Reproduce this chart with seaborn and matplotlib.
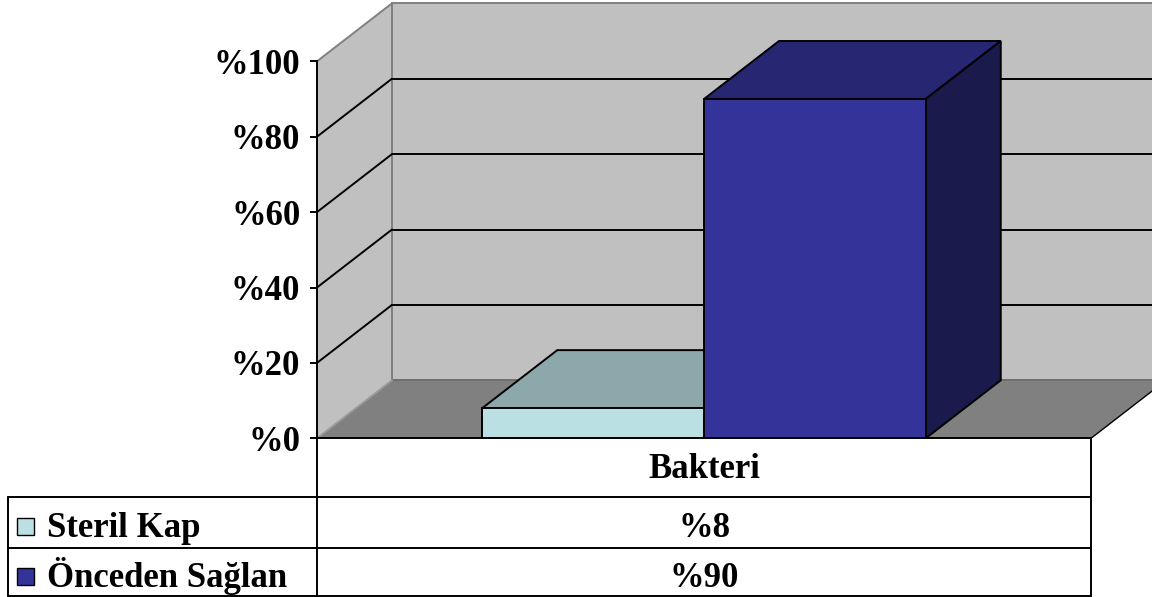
import pandas as pd
import matplotlib
matplotlib.use("Agg")
import matplotlib.pyplot as plt
from matplotlib.patches import Polygon, Rectangle
from matplotlib.lines import Line2D
from matplotlib.colors import to_rgb
from matplotlib import transforms
import seaborn as sns

# ---- data ----
category = "Bakteri"
series = ["Steril Kap", "Önceden Sağlan"]
values = [8, 90]
y_ticks = [0, 20, 40, 60, 80, 100]
tick_labels = [f"%{t}" for t in y_ticks]
front_colors = ["#BBE0E3", "#333399"]

df = pd.DataFrame({
    "kategori": [category] * len(series),
    "grup": series,
    "oran": values,
})

sns.set_style("white")
plt.rcParams["font.family"] = ["Liberation Serif", "DejaVu Serif"]
plt.rcParams["font.weight"] = "bold"
plt.rcParams["text.color"] = "black"
plt.rcParams["ytick.color"] = "black"
plt.rcParams["ytick.labelcolor"] = "black"

W, H, DPI = 1152, 597, 100
fig = plt.figure(figsize=(W / DPI, H / DPI), dpi=DPI)
fig.patch.set_facecolor("white")

# frame geometry (pixels)
X0, X1 = 317, 1091          # front plane of the category
Y0, PX_PER_UNIT = 438.3, 3.77
FS = 25
LW = 1.4


def fx(px):
    return px / W


def fy(py):
    return 1 - py / H


ax = fig.add_axes([fx(X0), fy(Y0), (W - X0) / W, Y0 / H])
ax.set_facecolor("white")

sns.barplot(data=df, x="kategori", y="oran", hue="grup", hue_order=series,
            palette=front_colors, width=0.573, saturation=1,
            edgecolor="black", linewidth=LW, legend=False, ax=ax)

ax.set_xlim(-0.5, -0.5 + (W - X0) / (X1 - X0))
ax.set_ylim(0, Y0 / PX_PER_UNIT)
DX = 75 / (X1 - X0)
DY = 58 / PX_PER_UNIT
XR = ax.get_xlim()[1] + 0.1
XB = -0.5 + DX                # back wall left edge


def shade(c, f):
    r, g, b = to_rgb(c)
    return (r * f, g * f, b * f)


# 3-D faces of each bar
bars = list(ax.patches)
for i, bar in enumerate(bars):
    x0, w, h = bar.get_x(), bar.get_width(), bar.get_height()
    z = 3 + 2 * i
    bar.set_zorder(z)
    c = bar.get_facecolor()
    top = Polygon([(x0, h), (x0 + w, h), (x0 + w + DX, h + DY), (x0 + DX, h + DY)],
                  closed=True, fc=shade(c, 0.75), ec="black", lw=LW, zorder=z - 0.5)
    side = Polygon([(x0 + w, 0), (x0 + w + DX, DY), (x0 + w + DX, h + DY), (x0 + w, h)],
                   closed=True, fc=shade(c, 0.5), ec="black", lw=LW, zorder=z - 0.5)
    ax.add_patch(top)
    ax.add_patch(side)

# walls and floor
top_v = y_ticks[-1]
ax.add_patch(Polygon([(-0.5, 0), (XB, DY), (XB, top_v + DY), (-0.5, top_v)],
                     closed=True, fc="#C0C0C0", ec="none", zorder=0))
ax.add_patch(Rectangle((XB, DY), XR - XB, top_v, fc="#C0C0C0", ec="none", zorder=0))
ax.add_patch(Polygon([(-0.5, 0), (0.5, 0), (0.5 + DX, DY), (XB, DY)],
                     closed=True, fc="#808080", ec="none", zorder=0.5))

gray = "#808080"
ax.plot([XB, XB], [DY, top_v + DY], color=gray, lw=LW, zorder=0.6)
ax.plot([XB, XR], [top_v + DY, top_v + DY], color=gray, lw=LW, zorder=0.6)
ax.plot([-0.5, XB], [top_v, top_v + DY], color=gray, lw=LW, zorder=0.6)
ax.plot([XB, XR], [DY, DY], color="#6E6E6E", lw=LW, zorder=0.6)
ax.plot([-0.5, XB], [0, DY], color="#9A9A9A", lw=LW, zorder=0.6)
ax.plot([0.5, 0.5 + DX], [0, DY], color="black", lw=1.0, zorder=0.6)

# gridlines on back and side walls
for v in y_ticks[1:-1]:
    ax.plot([XB, XR], [v + DY, v + DY], color="black", lw=LW, zorder=1)
    ax.plot([-0.5, XB], [v, v + DY], color="black", lw=LW, zorder=1)

# axis styling
for s in ["top", "right", "bottom"]:
    ax.spines[s].set_visible(False)
ax.spines["left"].set_visible(True)
ax.spines["left"].set_color("black")
ax.spines["left"].set_linewidth(LW)
ax.spines["left"].set_bounds(0, top_v)
ax.set_xticks([])
ax.set_yticks(y_ticks, tick_labels)
ax.tick_params(axis="y", left=True, direction="out", length=5, width=LW,
               pad=7, labelsize=FS, colors="black")
for t in ax.get_yticklabels():
    t.set_fontweight("bold")
ax.set_xlabel("")
ax.set_ylabel("")


# data table under the plot
def hline(x_a, x_b, y):
    fig.add_artist(Line2D([fx(x_a), fx(x_b)], [fy(y), fy(y)], color="black", lw=LW))


def vline(x, y_a, y_b):
    fig.add_artist(Line2D([fx(x), fx(x)], [fy(y_a), fy(y_b)], color="black", lw=LW))


TL = 8
rows = [Y0, 496.5, 547.7, 596]
hline(X0, X1, rows[0])
for y in rows[1:]:
    hline(TL, X1, y)
vline(TL, rows[1], rows[3])
vline(X0, rows[0], rows[3])
vline(X1, rows[0], rows[3])

bt = transforms.blended_transform_factory(ax.transData, fig.transFigure)
ax.text(0, fy(478.3), category, transform=bt, ha="center", va="baseline",
        fontsize=FS, fontweight="bold", color="black", clip_on=False)

baselines = [537, 587]
for name, val, col, base in zip(series, values, front_colors, baselines):
    ax.text(0, fy(base), f"%{val}", transform=bt, ha="center", va="baseline",
            fontsize=FS, fontweight="bold", color="black", clip_on=False)
    fig.text(fx(47), fy(base), name, ha="left", va="baseline",
             fontsize=FS, fontweight="bold", color="black")
    fig.add_artist(Rectangle((fx(17), fy(base - 2)), 17 / W, 17 / H,
                             transform=fig.transFigure, fc=col, ec="black", lw=1.0))

fig.savefig("out.png", dpi=DPI)
